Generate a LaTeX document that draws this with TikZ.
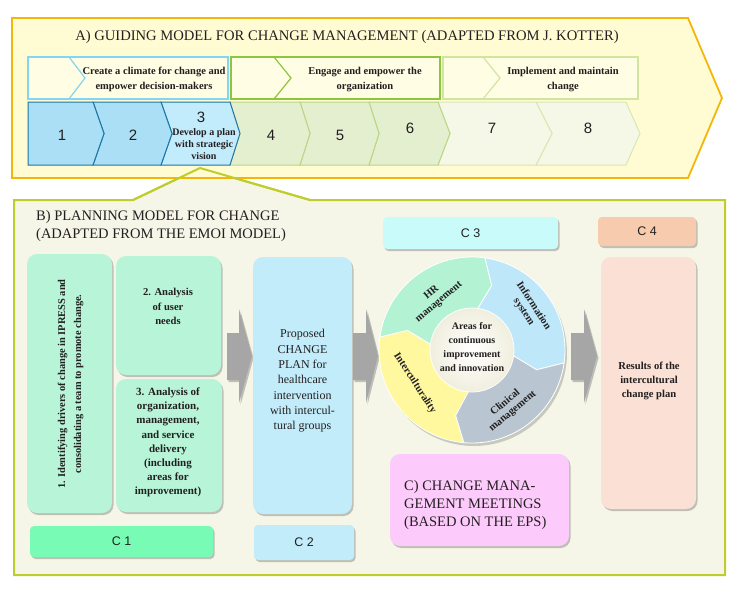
\documentclass[tikz,border=0pt]{standalone}
\usepackage{fontspec}
\setmainfont{Liberation Serif}
\newfontfamily\sansf{Liberation Sans}
\usetikzlibrary{shadows}
\definecolor{txt}{HTML}{231F20}
\definecolor{afill}{HTML}{FFFCD3}
\definecolor{aborder}{HTML}{F5B60A}
\definecolor{gfill}{HTML}{FFFDE3}
\definecolor{gbone}{HTML}{84D5F2}
\definecolor{gbtwo}{HTML}{8CC63F}
\definecolor{gbthree}{HTML}{D2E5A0}
\definecolor{chb}{HTML}{ABDFF6}
\definecolor{chbb}{HTML}{C2EBFB}
\definecolor{chbdraw}{HTML}{1D76A6}
\definecolor{chg}{HTML}{E3EFCF}
\definecolor{chgdraw}{HTML}{BAD683}
\definecolor{chl}{HTML}{F5F8E7}
\definecolor{chldraw}{HTML}{D8E8B0}
\definecolor{bborder}{HTML}{BFCD2C}
\definecolor{bfill}{HTML}{F5F6E8}
\definecolor{mint}{HTML}{B8F5D8}
\definecolor{cone}{HTML}{78FBB4}
\definecolor{skyb}{HTML}{C2ECFA}
\definecolor{cthree}{HTML}{CAFBFB}
\definecolor{cfour}{HTML}{F7CBAD}
\definecolor{peach}{HTML}{FBE1D5}
\definecolor{pinkc}{HTML}{FDCBFB}
\definecolor{arrgray}{HTML}{A6A6A6}
\definecolor{hrc}{HTML}{B3F2D3}
\definecolor{infc}{HTML}{BEE8F9}
\definecolor{clic}{HTML}{B9C6D1}
\definecolor{intc}{HTML}{FFF89E}
\definecolor{hubc}{HTML}{EFEEDD}
\newcommand{\mychev}[5]{\draw[#5] (#1,102) -- (#3,102) -- (#4,133.5) -- (#3,165) -- (#1,165) -- (#2,133.5) -- cycle;}
\newcommand{\grayarr}[3]{\fill[arrgray, shad] (#1,333) -- (#2,333) -- (#2,309) -- (#3,356) -- (#2,403) -- (#2,380) -- (#1,380) -- cycle;}
\newcommand{\segpath}[2]{(#1:93) arc[start angle=#1, end angle=#2, radius=93] -- ({#2+9}:67.5) -- (#2:42) arc[start angle=#2, end angle=#1, radius=42] -- ({#1+9}:67.5) -- cycle}
\begin{document}
\begin{tikzpicture}[x=1pt,y=-1pt,
  shad/.style={drop shadow={shadow xshift=1.5pt, shadow yshift=-2pt, fill=black, opacity=0.22}},
  rbox/.style={rounded corners=10pt, draw=none, inner sep=0pt, outer sep=0pt, shad},
  cbar/.style={rounded corners=4pt, draw=none, inner sep=0pt, outer sep=0pt, shad, text=txt, font=\sansf\fontsize{12.5}{12.5}\selectfont},
  grp/.style={draw, fill=gfill, line width=1.2pt, inner sep=0pt},
  grptxt/.style={font=\bfseries\fontsize{10.5}{15}\selectfont, align=center, text=txt},
  num/.style={font=\sansf\fontsize{15}{15}\selectfont, text=txt},
  boldtxt/.style={font=\bfseries\fontsize{11}{14.2}\selectfont, align=center, text=txt},
  ringtxt/.style={font=\bfseries\fontsize{10.5}{11.5}\selectfont, align=center, text=txt},
  chevb/.style={fill=chb, draw=chbdraw, line width=1pt, line join=miter},
  chevg/.style={fill=chg, draw=chgdraw, line width=1pt, line join=miter},
  chevl/.style={fill=chl, draw=chldraw, line width=1pt, line join=miter}]
\useasboundingbox (0,0) rectangle (740,590);
% ---- B frame
\draw[bborder, line width=2pt, fill=bfill, line join=miter] (14,200) -- (133,200) -- (200,168) -- (310,200) -- (725,200) -- (725,575) -- (14,575) -- cycle;
% ---- A arrow
\draw[aborder, fill=afill, line width=1.8pt, line join=miter] (12,18) -- (688,18) -- (722,98) -- (688,178) -- (12,178) -- cycle;
\draw[bborder, line width=2pt, line join=miter] (133,200) -- (200,168) -- (310,200);
\node[font=\fontsize{14.6}{14.6}\selectfont, text=txt] (atitle) at (347,37) {A) GUIDING MODEL FOR CHANGE MANAGEMENT (ADAPTED FROM J. KOTTER)};
% group boxes
\node[grp, draw=gbone, minimum width=200pt, minimum height=42pt] (g1) at (128,78) {};
\draw[gbone, line width=1.2pt] (69,57) -- (85,78) -- (69,99);
\node[grp, draw=gbtwo, minimum width=209pt, minimum height=42pt] (g2) at (335.5,78) {};
\draw[gbtwo, line width=1.2pt] (274,57) -- (291,78) -- (274,99);
\node[grp, draw=gbthree, minimum width=195pt, minimum height=42pt] (g3) at (540.5,78) {};
\draw[gbthree, line width=1.2pt] (483,57) -- (500,78) -- (483,99);
\node[grptxt] (g1t) at (154,79.5) {Create a climate for change and\\empower decision-makers};
\node[grptxt] (g2t) at (365,79.5) {Engage and empower the\\organization};
\node[grptxt] (g3t) at (563,79.5) {Implement and maintain\\change};
% number chevrons
\mychev{536}{552}{626}{640}{chevl}
\mychev{438}{450}{536}{552}{chevl}
\mychev{369}{379}{438}{450}{chevg}
\mychev{300}{310}{369}{379}{chevg}
\mychev{230}{240}{300}{310}{chevg}
\mychev{161}{172}{230}{240}{chevb, fill=chbb}
\mychev{93}{104}{161}{172}{chevb}
\mychev{28}{28}{93}{104}{chevb}
\node[num] (n1) at (62,135) {1};
\node[num] (n2) at (133,135) {2};
\node[num] (n3) at (201,117) {3};
\node[font=\bfseries\fontsize{10}{12}\selectfont, align=center, text=txt, inner sep=0pt] (n3t) at (204,144) {Develop a plan\\with strategic\\vision};
\node[num] (n4) at (271,135) {4};
\node[num] (n5) at (340,135) {5};
\node[num] (n6) at (410,128) {6};
\node[num] (n7) at (492,128) {7};
\node[num] (n8) at (588,128) {8};
% ---- B content
\node[anchor=west, align=left, inner sep=0pt, text=txt, font=\fontsize{14.5}{18}\selectfont] (btitle) at (36,226) {B) PLANNING MODEL FOR CHANGE\\(ADAPTED FROM THE EMOI MODEL)};
\node[rbox, fill=mint, minimum width=85pt, minimum height=259pt] (box1) at (69.5,383.5) {};
\node[rotate=90, font=\bfseries\fontsize{10.4}{16}\selectfont, align=center, text=txt] (box1t) at (70.5,384) {1. Identifying drivers of change in IPRESS and\\consolidating a team to promote change.};
\node[rbox, fill=mint, minimum width=105pt, minimum height=119pt] (box2) at (168.5,315.5) {};
\node[boldtxt, font=\bfseries\fontsize{10.6}{14.5}\selectfont] (box2t) at (168,306.5) {2. Analysis\\of user\\needs};
\node[rbox, fill=mint, minimum width=106pt, minimum height=133pt] (box3) at (169,445.5) {};
\node[boldtxt] (box3t) at (168,442.5) {3. Analysis of\\organization,\\management,\\and service\\delivery\\(including\\areas for\\improvement)};
\node[cbar, fill=cone, minimum width=183pt, minimum height=31pt] (c1) at (121.5,541.5) {C 1};
\grayarr{227}{239}{252}
\node[rbox, fill=skyb, minimum width=99pt, minimum height=257pt] (box4) at (302.5,385.5) {};
\node[font=\fontsize{12}{15.3}\selectfont, align=center, text=txt] (box4t) at (302.5,381) {Proposed\\CHANGE\\PLAN for\\healthcare\\intervention\\with intercul-\\tural groups};
\node[cbar, fill=skyb, minimum width=100pt, minimum height=35pt] (c2) at (304,542.5) {C 2};
\grayarr{353}{366}{378}
\node[cbar, fill=cthree, minimum width=175pt, minimum height=32pt] (c3) at (470.5,233) {C 3};
% ring
\begin{scope}[shift={(472,350)}]
  \fill[black, opacity=0.18] (2,3) circle (93);
  \fill[bfill] (2,3) circle (42);
  \shade[inner color=white, outer color=hubc] (0,0) circle (43);
  \filldraw[fill=intc, draw=white, line width=0.8pt] \segpath{95}{188};
  \filldraw[fill=hrc, draw=white, line width=0.8pt] \segpath{188}{278};
  \filldraw[fill=infc, draw=white, line width=0.8pt] \segpath{278}{368};
  \filldraw[fill=clic, draw=white, line width=0.8pt] \segpath{8}{95};
  \node[ringtxt, rotate=40] (hr) at (235:64) {HR\\management};
  \node[ringtxt, rotate=-57] (inf) at (-36:70) {Information\\system};
  \node[ringtxt, rotate=40] (cli) at (57:68) {Clinical\\management};
  \node[ringtxt, rotate=-57] (inter) at (150:66) {Interculturality};
  \node[font=\bfseries\fontsize{10}{14}\selectfont, align=center, text=txt, inner sep=0pt] (hub) at (0,-3) {Areas for\\continuous\\improvement\\and innovation};
\end{scope}
\node[rbox, fill=pinkc, minimum width=179pt, minimum height=92pt] (cbox) at (479.5,500) {};
\node[anchor=west, align=left, inner sep=0pt, text=txt, font=\fontsize{14.5}{18}\selectfont] (cboxt) at (404,505) {C) CHANGE MANA-\\GEMENT MEETINGS\\(BASED ON THE EPS)};
\grayarr{571}{584}{597}
\node[cbar, fill=cfour, minimum width=98pt, minimum height=29pt] (c4) at (647,231.5) {C 4};
\node[rbox, fill=peach, minimum width=95pt, minimum height=252pt] (box5) at (648.5,383) {};
\node[boldtxt, font=\bfseries\fontsize{10.6}{14.2}\selectfont] (box5t) at (649,381) {Results of the\\intercultural\\change plan};
\end{tikzpicture}
\end{document}
